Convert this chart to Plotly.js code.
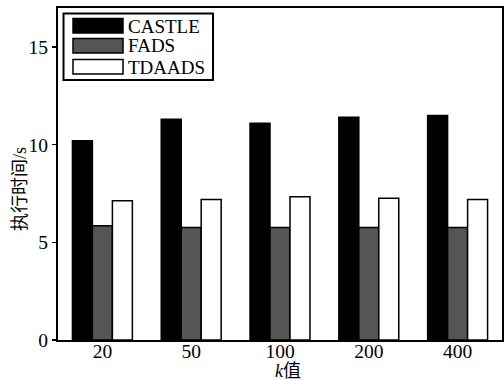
<!DOCTYPE html>
<html>
<head>
<meta charset="utf-8">
<script src="https://cdn.plot.ly/plotly-3.0.1.min.js"></script>
<style>html,body{margin:0;padding:0;background:#fff;}#chart{width:504px;height:380px;}</style>
</head>
<body>
<div id="chart"></div>
<script>
const categories = ["20", "50", "100", "200", "400"];
const seriesNames = ["CASTLE", "FADS", "TDAADS"];
const castle = [10.2, 11.3, 11.1, 11.4, 11.5];
const fads = [5.85, 5.76, 5.76, 5.76, 5.76];
const tdaads = [7.13, 7.2, 7.33, 7.26, 7.2];
const yTicks = [0, 5, 10, 15];
const xTitle = "<i>k</i>值";
const yTitle = "执行时间/s";

const seriesValues = [castle, fads, tdaads];
const fills = ["#000000", "#555555", "#ffffff"];
const serif = "Liberation Serif";
const cjk = "Liberation Serif, Noto Sans CJK SC";

const traces = seriesNames.map((name, i) => ({
  type: "bar",
  name: name,
  x: categories,
  y: seriesValues[i],
  marker: { color: fills[i], line: { color: "#000", width: 1.5 } },
  showlegend: false,
  hoverinfo: "skip"
}));

// custom legend (box + wide swatches + labels) in paper coordinates
const L = 58, R = 502, T = 8, B = 340;
const px = x => (x - L) / (R - L);
const py = y => (B - y) / (B - T);
const shapes = [{
  type: "rect", xref: "paper", yref: "paper",
  x0: px(63.5), x1: px(213), y0: py(80), y1: py(13.5),
  line: { color: "#000", width: 2 }, fillcolor: "#fff", layer: "above"
}];
const annotations = [];
const swTops = [18.5, 38.5, 59.5];
seriesNames.forEach((name, i) => {
  shapes.push({
    type: "rect", xref: "paper", yref: "paper",
    x0: px(73), x1: px(123), y0: py(swTops[i] + 14.5), y1: py(swTops[i]),
    line: { color: "#000", width: 1.5 }, fillcolor: fills[i], layer: "above"
  });
  annotations.push({
    xref: "paper", yref: "paper", x: px(125.5), y: py(swTops[i] + 7.5),
    xanchor: "left", yanchor: "middle", showarrow: false,
    text: name, font: { family: serif, size: 19, color: "#000" }
  });
});
// axis titles
annotations.push({
  xref: "paper", yref: "paper", x: px(288), y: py(371),
  xanchor: "center", yanchor: "middle", showarrow: false,
  text: xTitle, font: { family: cjk, size: 18, color: "#000" }
});
annotations.push({
  xref: "paper", yref: "paper", x: px(20), y: py(189),
  xanchor: "center", yanchor: "middle", showarrow: false, textangle: -90,
  text: yTitle, font: { family: cjk, size: 18, color: "#000" }
});

const layout = {
  width: 504, height: 380,
  margin: { l: 58, r: 2, t: 8, b: 40 },
  paper_bgcolor: "#fff", plot_bgcolor: "#fff",
  barmode: "group", bargap: 0.325, bargroupgap: 0,
  font: { family: serif, color: "#000", size: 18 },
  xaxis: {
    type: "category",
    range: [-0.5, 4.5],
    showline: true, linecolor: "#000", linewidth: 2, mirror: true,
    ticks: "", showgrid: false, zeroline: false,
    ticklabelstandoff: -7,
    tickfont: { family: serif, size: 19.5, color: "#000" }
  },
  yaxis: {
    range: [0, 17],
    tickvals: yTicks, ticktext: yTicks.map(String),
    showline: true, linecolor: "#000", linewidth: 2, mirror: true,
    ticks: "outside", ticklen: 4, tickwidth: 1.5, tickcolor: "#000",
    showgrid: false, zeroline: false,
    tickfont: { family: serif, size: 19.5, color: "#000" }
  },
  shapes: shapes,
  annotations: annotations
};

Plotly.newPlot("chart", traces, layout, { staticPlot: true, displayModeBar: false });
</script>
</body>
</html>
